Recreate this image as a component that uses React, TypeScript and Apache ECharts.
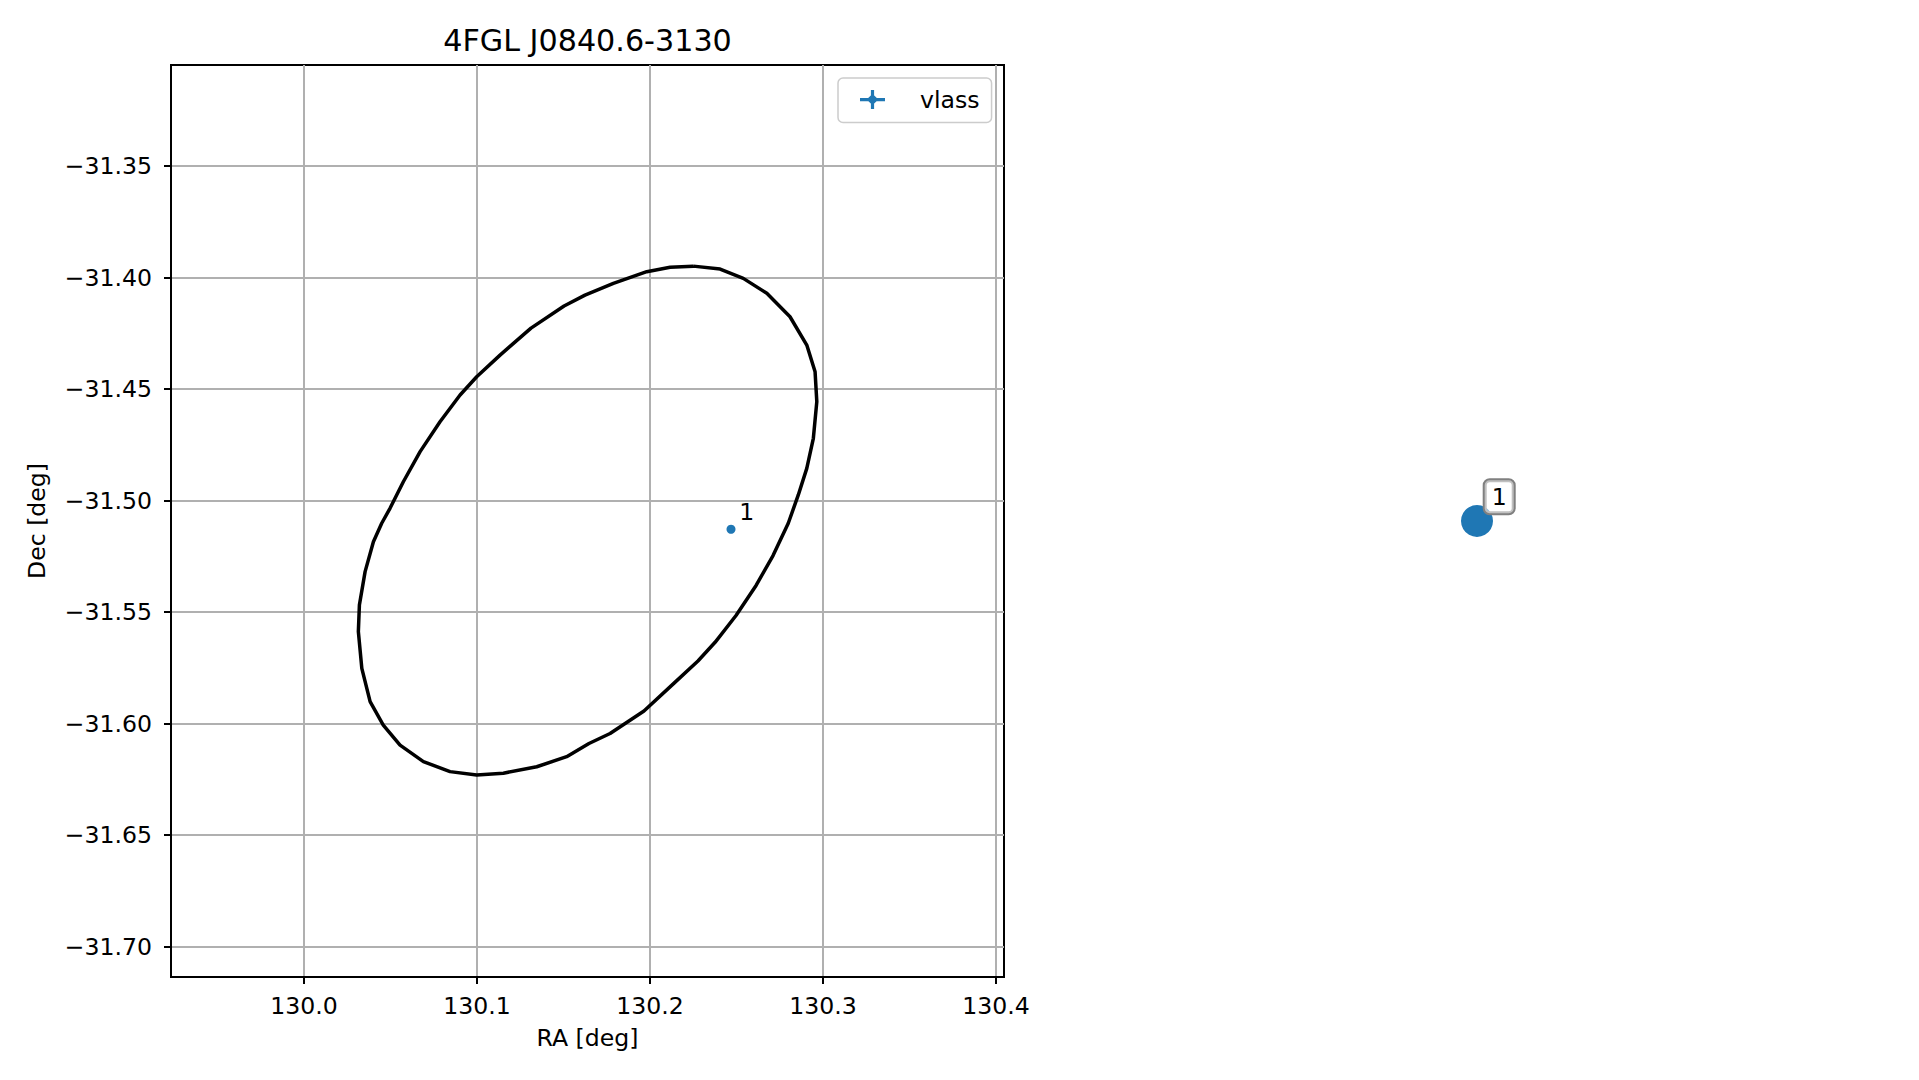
import React, { useEffect, useRef } from "react";
import * as echarts from "echarts";

const chartTitle = "4FGL J0840.6-3130";
const xAxisName = "RA [deg]";
const yAxisName = "Dec [deg]";
const legendName = "vlass";

const raTicks = [130.0, 130.1, 130.2, 130.3, 130.4];
const decTicks = [-31.7, -31.65, -31.6, -31.55, -31.5, -31.45, -31.4, -31.35];
const raRange = [129.9231, 130.4046];
const decRange = [-31.7136, -31.3046];

// error ellipse vertices
const ellipseRa = [
  130.2250, 130.2405, 130.2539, 130.2675, 130.2809, 130.2906, 130.2954, 130.2964,
  130.2944, 130.2906, 130.2857, 130.2799, 130.2711, 130.2613, 130.2497, 130.2376,
  130.2277, 130.2139, 130.1965, 130.1769, 130.1647, 130.1518, 130.1345, 130.1152,
  130.0998, 130.0844, 130.0690, 130.0555, 130.0458, 130.0382, 130.0334, 130.0314,
  130.0320, 130.0353, 130.0401, 130.0449, 130.0497, 130.0574, 130.0671, 130.0786,
  130.0902, 130.0998, 130.1133, 130.1312, 130.1503, 130.1624, 130.1788, 130.1981,
  130.2116, 130.2250,
];
const ellipseDec = [
  -31.3948, -31.3961, -31.4003, -31.4070, -31.4175, -31.4302, -31.4422, -31.4556,
  -31.4720, -31.4855, -31.4974, -31.5101, -31.5246, -31.5380, -31.5515, -31.5635,
  -31.5719, -31.5818, -31.5943, -31.6044, -31.6089, -31.6148, -31.6193, -31.6222,
  -31.6230, -31.6215, -31.6170, -31.6096, -31.6006, -31.5901, -31.5752, -31.5587,
  -31.5468, -31.5318, -31.5184, -31.5101, -31.5034, -31.4915, -31.4780, -31.4646,
  -31.4526, -31.4444, -31.4347, -31.4226, -31.4127, -31.4078, -31.4025, -31.3973,
  -31.3953, -31.3948,
];

const vlassRa = [130.2468];
const vlassDec = [-31.5128];
const vlassLabels = ["1"];

const FONT = "DejaVu Sans";
const BLUE = "#1f77b4";
const FS = 23.6;

const LEGEND_ICON =
  "path://M0 8 L25 8 L25 11.2 L0 11.2 Z M10.9 0 L14.1 0 L14.1 19 L10.9 19 Z " +
  "M16.6 7.8 L16.6 11.2 L14.2 13.6 L10.8 13.6 L8.4 11.2 L8.4 7.8 L10.8 5.4 L14.2 5.4 Z";

export default function App() {
  const ref = useRef<HTMLDivElement>(null);

  useEffect(() => {
    if (!ref.current) return;
    const chart = echarts.init(ref.current, null, { renderer: "svg" });

    const ellipseData = ellipseRa.map((x, i) => [x, ellipseDec[i]]);
    const vlassData = vlassRa.map((x, i) => ({ value: [x, vlassDec[i]], name: vlassLabels[i] }));
    const detailHalf = 0.05;

    chart.setOption({
      animation: false,
      backgroundColor: "#ffffff",
      textStyle: { fontFamily: FONT, color: "#000" },
      title: {
        text: chartTitle,
        left: 587.5,
        top: 25,
        textAlign: "center",
        padding: 0,
        textStyle: { fontFamily: FONT, fontSize: 30.2, fontWeight: "normal", color: "#000" },
      },
      legend: {
        data: [{ name: legendName, icon: LEGEND_ICON, itemStyle: { color: BLUE, opacity: 1 } }],
        left: 838,
        top: 78,
        padding: [9.5, 12, 11, 22],
        itemWidth: 25,
        itemHeight: 19,
        backgroundColor: "rgba(255,255,255,0.8)",
        borderColor: "#cccccc",
        borderWidth: 1.5,
        borderRadius: 5,
        selectedMode: false,
        textStyle: { fontFamily: FONT, fontSize: FS, color: "#000", padding: [0, 0, 0, 30] },
      },
      grid: [
        {
          left: 171,
          top: 65,
          width: 833,
          height: 912,
          show: true,
          borderColor: "#000",
          borderWidth: 2,
          backgroundColor: "transparent",
        },
        { left: 1055, top: 65, width: 844, height: 912, show: false },
      ],
      xAxis: [
        {
          type: "value",
          gridIndex: 0,
          min: raRange[0],
          max: raRange[1],
          splitNumber: 5,
          name: xAxisName,
          nameLocation: "middle",
          nameGap: 49,
          nameTextStyle: { fontFamily: FONT, fontSize: FS, color: "#000" },
          axisLine: { show: true, onZero: false, lineStyle: { color: "#000", width: 2 } },
          axisTick: { show: true, length: 7, lineStyle: { color: "#000", width: 2 }, customValues: raTicks },
          axisLabel: {
            customValues: raTicks,
            formatter: (v: number) => v.toFixed(1),
            fontFamily: FONT,
            fontSize: FS,
            color: "#000",
            margin: 17,
          },
          splitLine: { show: true, lineStyle: { color: "#b0b0b0", width: 2 } },
        },
        {
          type: "value",
          gridIndex: 1,
          min: vlassRa[0] - detailHalf,
          max: vlassRa[0] + detailHalf,
          show: false,
        },
      ],
      yAxis: [
        {
          type: "value",
          gridIndex: 0,
          min: decRange[0],
          max: decRange[1],
          splitNumber: 8,
          name: yAxisName,
          nameLocation: "middle",
          nameGap: 122,
          nameTextStyle: { fontFamily: FONT, fontSize: FS, color: "#000" },
          axisLine: { show: true, onZero: false, lineStyle: { color: "#000", width: 2 } },
          axisTick: { show: true, length: 7, lineStyle: { color: "#000", width: 2 }, customValues: decTicks },
          axisLabel: {
            customValues: decTicks,
            formatter: (v: number) => v.toFixed(2).replace("-", "\u2212"),
            fontFamily: FONT,
            fontSize: FS,
            color: "#000",
            margin: 19,
          },
          splitLine: { show: true, lineStyle: { color: "#b0b0b0", width: 2 } },
        },
        {
          type: "value",
          gridIndex: 1,
          min: vlassDec[0] - detailHalf,
          max: vlassDec[0] + detailHalf,
          show: false,
        },
      ],
      series: [
        {
          name: "ellipse",
          type: "line",
          xAxisIndex: 0,
          yAxisIndex: 0,
          data: ellipseData,
          showSymbol: false,
          symbol: "none",
          silent: true,
          lineStyle: { color: "#000", width: 3.5 },
          z: 3,
        },
        {
          name: legendName,
          type: "scatter",
          xAxisIndex: 0,
          yAxisIndex: 0,
          data: vlassData,
          symbol: "circle",
          symbolSize: 9,
          itemStyle: { color: BLUE, opacity: 1 },
          z: 4,
          label: {
            show: true,
            formatter: (p: any) => p.name,
            position: "inside",
            offset: [15.7, -17.6],
            fontFamily: FONT,
            fontSize: FS,
            color: "#000",
          },
        },
        {
          name: "vlass-detail",
          type: "scatter",
          xAxisIndex: 1,
          yAxisIndex: 1,
          data: vlassData,
          symbol: "circle",
          symbolSize: 32,
          itemStyle: { color: BLUE, opacity: 1 },
          z: 4,
          label: {
            show: true,
            formatter: (p: any) => p.name,
            position: "inside",
            offset: [22.2, -24.3],
            fontFamily: FONT,
            fontSize: FS,
            color: "#000",
            backgroundColor: "rgba(255,255,255,0.5)",
            borderColor: "#808080",
            borderWidth: 2,
            borderRadius: 5,
            padding: [5, 7, 4, 7],
          },
        },
      ],
    });

    return () => chart.dispose();
  }, []);

  return (
    <div
      ref={ref}
      style={{ position: "fixed", left: 0, top: 0, width: 1919, height: 1080 }}
    />
  );
}
